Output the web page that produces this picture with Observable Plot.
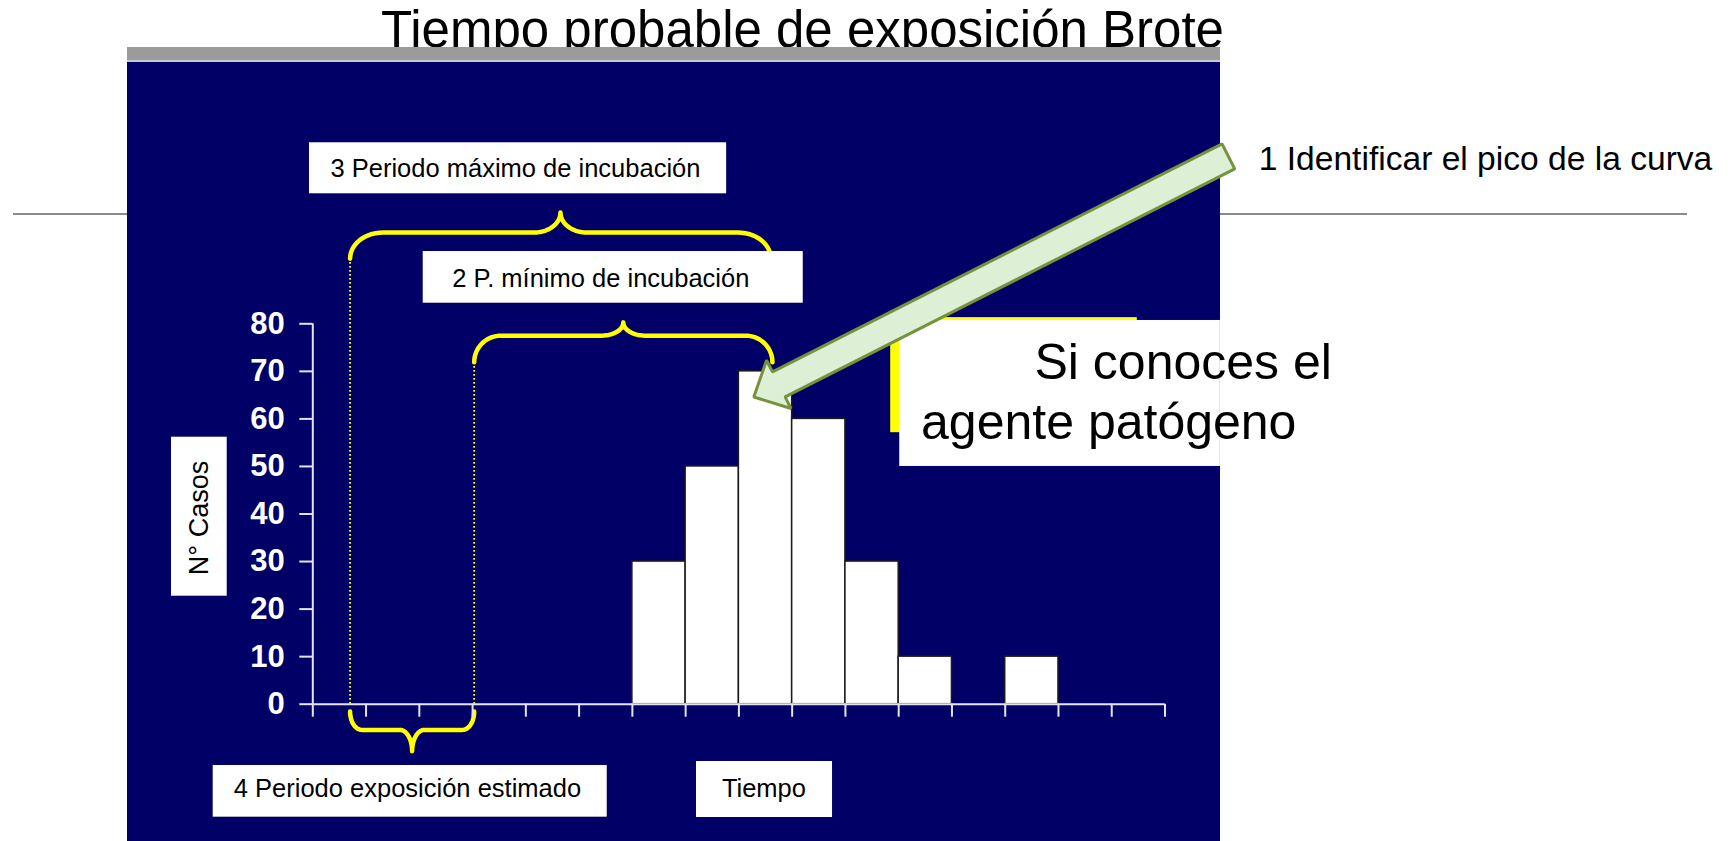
<!DOCTYPE html>
<html>
<head>
<meta charset="utf-8">
<script src="https://cdn.jsdelivr.net/npm/d3@7"></script>
<script src="https://cdn.jsdelivr.net/npm/@observablehq/plot@0.6"></script>
<style>
html, body { margin: 0; padding: 0; background: #fff; }
#page { position: relative; width: 1735px; height: 841px; overflow: hidden; background: #fff; font-family: "Liberation Sans", Arial, sans-serif; }
#hr { position: absolute; left: 13px; top: 213px; width: 1674px; height: 2px; background: #8a8a8a; }
#title { position: absolute; left: 381px; top: 3.8px; font-size: 51px; line-height: 51px; color: #000; white-space: nowrap; }
#panel { position: absolute; left: 127px; top: 61.5px; width: 1093px; height: 780px; background: #000066; }
#bar { position: absolute; left: 127px; top: 47px; width: 1093px; height: 12.5px; background: #9b9b9b; }
#barline { position: absolute; left: 127px; top: 59.5px; width: 1093px; height: 2px; background: #c9c9d3; }
#chart { position: absolute; left: 0; top: 0; }
#chart g[aria-label="y-axis tick label"] { font-weight: bold; fill: #ffffff; }
</style>
</head>
<body>
<div id="page">
  <div id="hr"></div>
  <div id="title">Tiempo probable de exposición Brote</div>
  <div id="panel"></div>
  <div id="bar"></div>
  <div id="barline"></div>
  <div id="chart"></div>
</div>
<script>
// ---- data ----
const timeBins = [0, 1, 2, 3, 4, 5, 6, 7, 8, 9, 10, 11, 12, 13, 14, 15];
const cases    = [0, 0, 0, 0, 0, 0, 30, 50, 70, 60, 30, 10, 0, 10, 0, 0];
const yTicks   = [0, 10, 20, 30, 40, 50, 60, 70, 80];
const xTicks   = [0, 1, 2, 3, 4, 5, 6, 7, 8, 9, 10, 11, 12, 13, 14, 15, 16];
const xDomain  = [0, 16];
const yDomain  = [0, 80];

// annotation texts
const labelMax    = "3 Periodo máximo de incubación";
const labelMin    = "2 P. mínimo de incubación";
const labelExpo   = "4 Periodo exposición estimado";
const labelTime   = "Tiempo";
const labelCases  = "N° Casos";
const labelPeak   = "1 Identificar el pico de la curva";
const labelAgent1 = "Si conoces el";
const labelAgent2 = "agente patógeno";

// annotation anchors (in chart units: time bins, cases)
const exposureStart = 0.7, exposureEnd = 3.03, peakTime = 8.6;

// ---- layout ----
const W = 1735, H = 841;
const mL = 312.3, mR = 570.5, mT = 323.3, mB = 137.3;
const X  = v => mL + (v - xDomain[0]) / (xDomain[1] - xDomain[0]) * (W - mL - mR);
const Y  = v => (H - mB) - (v - yDomain[0]) / (yDomain[1] - yDomain[0]) * (H - mT - mB);
const Xi = p => xDomain[0] + (p - mL) / (W - mL - mR) * (xDomain[1] - xDomain[0]);
const Yi = p => yDomain[0] + ((H - mB) - p) / (H - mT - mB) * (yDomain[1] - yDomain[0]);

const bars = timeBins.map((t, i) => ({t0: t, t1: t + 1, n: cases[i]})).filter(d => d.n > 0);

// curly brace shape (annotation geometry)
function brace(id, x1, x2, yEnd, yBar, yTip, cw, tw) {
  const xm = (x1 + x2) / 2, n = 14, pts = [];
  const ang = i => i / n * Math.PI / 2;
  for (let i = 0; i <= n; i++) { const t = ang(i); pts.push({id, x: x1 + cw * (1 - Math.cos(t)), y: yEnd + (yBar - yEnd) * Math.sin(t)}); }
  for (let i = 0; i <= n; i++) { const t = ang(i); pts.push({id, x: xm - tw + tw * Math.sin(t), y: yTip - (yTip - yBar) * Math.cos(t)}); }
  for (let i = n; i >= 0; i--) { const t = ang(i); pts.push({id, x: xm + tw - tw * Math.sin(t), y: yTip - (yTip - yBar) * Math.cos(t)}); }
  for (let i = n; i >= 0; i--) { const t = ang(i); pts.push({id, x: x2 - cw * (1 - Math.cos(t)), y: yEnd + (yBar - yEnd) * Math.sin(t)}); }
  return pts;
}
const braces = [
  ...brace("max",  exposureStart, peakTime, 93.7, 99.2, 103.4, 0.62, 0.49),
  ...brace("min",  exposureEnd, peakTime + 0.03, 71.9, 77.5, 80.3, 0.5, 0.41),
  ...brace("expo", exposureStart, exposureEnd, -1.55, -5.4, -9.9, 0.22, 0.23)
];
const dotted = [
  {x: exposureStart, top: 93.7},
  {x: exposureEnd, top: 71.9}
];

// block arrow pointing at the peak
function blockArrow(tail, tip, shaftHalf, headLen, headHalf) {
  const T = [X(tail.x), Y(tail.y)], P = [X(tip.x), Y(tip.y)];
  const L = Math.hypot(P[0] - T[0], P[1] - T[1]);
  const u = [(P[0] - T[0]) / L, (P[1] - T[1]) / L], nn = [-u[1], u[0]];
  const B = [P[0] - u[0] * headLen, P[1] - u[1] * headLen];
  const at = (base, k) => [base[0] + nn[0] * k, base[1] + nn[1] * k];
  const poly = [P, at(B, headHalf), at(B, shaftHalf), at(T, shaftHalf), at(T, -shaftHalf), at(B, -shaftHalf), at(B, -headHalf)];
  return poly.map(([px, py]) => ({x: Xi(px), y: Yi(py)}));
}
const arrow = blockArrow({x: 17.19, y: 115.2}, {x: 8.28, y: 64.6}, 14, 28, 27);

const boxes = [
  {x1: -0.062, x2: 7.77,  y1: 118.07, y2: 107.34},
  {x1: 2.073,  x2: 9.208, y1: 95.2,   y2: 84.33},
  {x1: -1.87,  x2: 5.528, y1: -12.89, y2: -23.76},
  {x1: 7.204,  x2: 9.758, y1: -12.05, y2: -23.83},
  {x1: -2.653, x2: -1.607, y1: 56.15, y2: 22.71}
];
const boxTexts = [
  {x: 0.332, y: 112.66, t: labelMax},
  {x: 2.617, y: 89.38,  t: labelMin},
  {x: -1.483, y: -17.88, t: labelExpo}
];

const font = "'Liberation Sans', Arial, sans-serif";
const axisColor = "#e4e4f0";

const chart = Plot.plot({
  width: W, height: H,
  marginLeft: mL, marginRight: mR, marginTop: mT, marginBottom: mB,
  x: {domain: xDomain, label: null},
  y: {domain: yDomain, label: null},
  style: {background: "transparent", overflow: "visible", fontFamily: font},
  marks: [
    // dotted guides
    Plot.ruleX(dotted, {x: "x", y1: 0, y2: "top", stroke: "#ffff00", strokeWidth: 1.8, strokeDasharray: "1.8 2.2"}),
    // braces
    Plot.line(braces, {x: "x", y: "y", z: "id", stroke: "#ffff00", strokeWidth: 4.5, strokeLinejoin: "round"}),
    // label boxes
    Plot.rect(boxes, {x1: "x1", x2: "x2", y1: "y1", y2: "y2", fill: "white"}),
    Plot.text(boxTexts, {x: "x", y: "y", text: "t", textAnchor: "start", lineAnchor: "middle", fontSize: 25.5, fill: "black"}),
    Plot.text([labelTime], {x: 8.47, y: -17.88, text: d => d, textAnchor: "middle", lineAnchor: "middle", fontSize: 25.5, fill: "black"}),
    Plot.text([labelCases], {x: -2.127, y: 39.16, text: d => d, rotate: -90, textAnchor: "middle", lineAnchor: "middle", fontSize: 27, fill: "black"}),
    // histogram
    Plot.rect(bars, {x1: "t0", x2: "t1", y1: 0, y2: "n", fill: "white", stroke: "#1c1c1c", strokeWidth: 1.5}),
    // axes
    Plot.ruleX([0], {y1: 0, y2: 80, stroke: axisColor, strokeWidth: 2}),
    Plot.ruleY([0], {x1: 0, x2: 16, stroke: axisColor, strokeWidth: 2}),
    Plot.axisY(yTicks, {tickSize: 13, tickPadding: 15, fontSize: 31, fontWeight: "bold", color: axisColor, strokeWidth: 2, label: null}),
    Plot.axisX(xTicks, {tickSize: 13, tickFormat: () => "", color: axisColor, strokeWidth: 2, label: null}),
    // pathogen box
    Plot.rect([0], {x1: 10.85, x2: 15.48, y1: 81.3, y2: 57.1, fill: "#ffff00"}),
    Plot.rect([0], {x1: 11.02, x2: 17.04, y1: 80.7, y2: 50.0, fill: "white"}),
    Plot.text([labelAgent1], {x: 13.55, y: 71.7, text: d => d, textAnchor: "start", lineAnchor: "middle", fontSize: 50, fill: "black"}),
    Plot.text([labelAgent2], {x: 11.42, y: 59.2, text: d => d, textAnchor: "start", lineAnchor: "middle", fontSize: 50, fill: "black"}),
    // arrow
    Plot.line(arrow, {x: "x", y: "y", curve: "linear-closed", fill: "#ddefd4", stroke: "#76923c", strokeWidth: 3, strokeLinejoin: "miter"}),
    Plot.text([labelPeak], {x: 17.76, y: 114.7, text: d => d, textAnchor: "start", lineAnchor: "middle", fontSize: 33.6, fill: "black"})
  ]
});
document.getElementById("chart").appendChild(chart);
</script>
</body>
</html>
